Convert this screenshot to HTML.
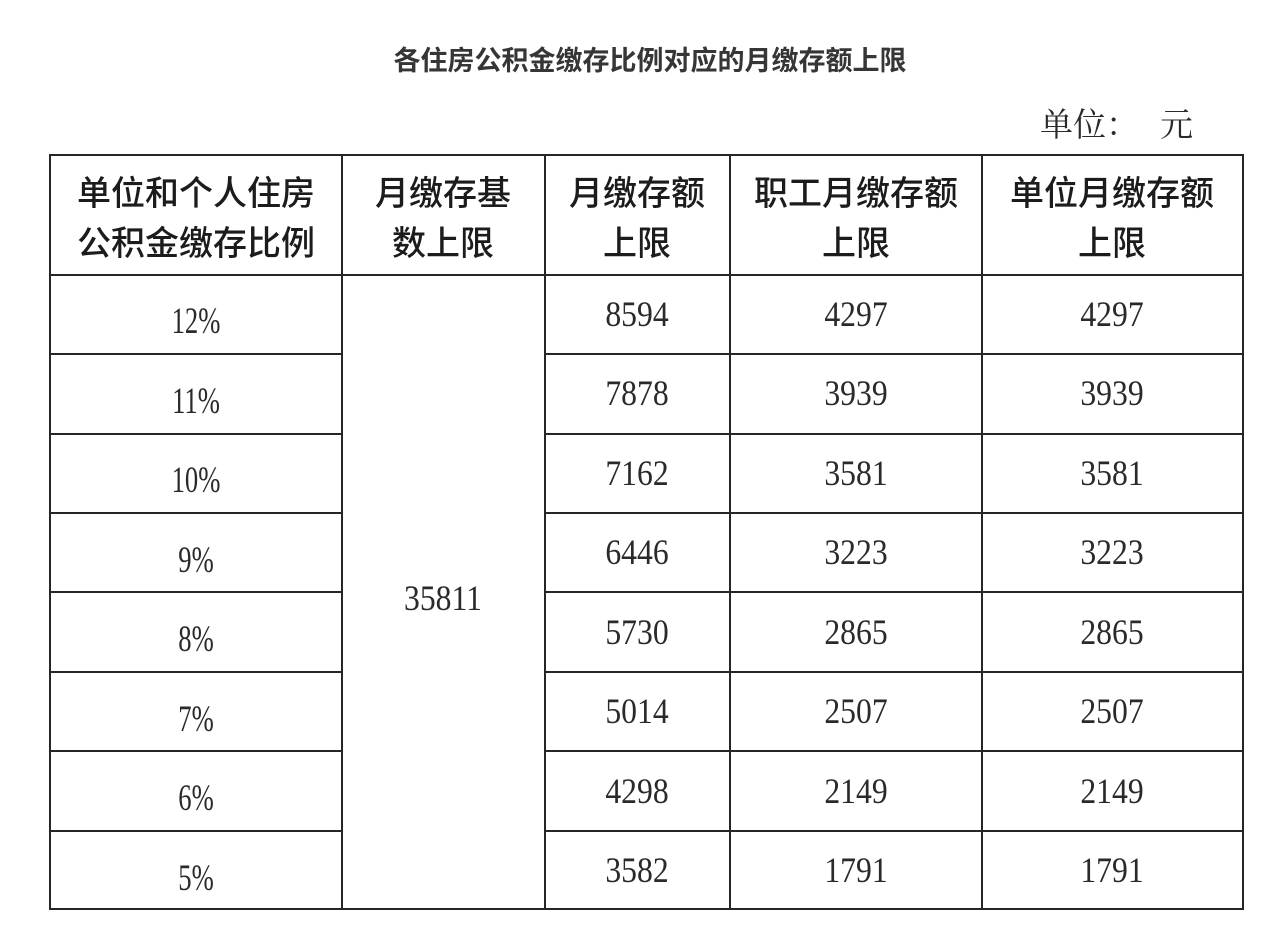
<!DOCTYPE html>
<html>
<head>
<meta charset="utf-8">
<style>
html,body{margin:0;padding:0;background:#fff;}
body{width:1280px;height:939px;overflow:hidden;}
svg{display:block;}
.t{font-family:"Liberation Sans","Noto Sans CJK SC",sans-serif;font-weight:bold;font-size:27px;fill:#363636;}
.h{font-family:"Liberation Sans","Noto Sans CJK SC",sans-serif;font-size:34px;fill:#1c1c1c;font-weight:500;}
.u{font-family:"Noto Serif CJK SC",serif;font-size:33px;fill:#2a2a2a;}
.n{font-family:"Liberation Serif",serif;font-size:36px;fill:#2a2a2a;}
.p{font-family:"Liberation Serif",serif;font-size:37px;fill:#2a2a2a;}
</style>
</head>
<body>
<svg width="1280" height="939" viewBox="0 0 1280 939" xmlns="http://www.w3.org/2000/svg">
<rect width="1280" height="939" fill="#fff"/>
<text class="t" x="650" y="70" text-anchor="middle">各住房公积金缴存比例对应的月缴存额上限</text>
<text class="u" x="1040" y="136">单位：</text>
<text class="u" x="1160" y="136">元</text>

<g stroke="#262626" stroke-width="2" fill="none">
<rect x="50" y="155" width="1193" height="754"/>
<line x1="342" y1="155" x2="342" y2="909"/>
<line x1="545" y1="155" x2="545" y2="909"/>
<line x1="730" y1="155" x2="730" y2="909"/>
<line x1="982" y1="155" x2="982" y2="909"/>
<line x1="50" y1="275" x2="1243" y2="275"/>
<line x1="50" y1="354" x2="342" y2="354"/><line x1="545" y1="354" x2="1243" y2="354"/>
<line x1="50" y1="434" x2="342" y2="434"/><line x1="545" y1="434" x2="1243" y2="434"/>
<line x1="50" y1="513" x2="342" y2="513"/><line x1="545" y1="513" x2="1243" y2="513"/>
<line x1="50" y1="592" x2="342" y2="592"/><line x1="545" y1="592" x2="1243" y2="592"/>
<line x1="50" y1="672" x2="342" y2="672"/><line x1="545" y1="672" x2="1243" y2="672"/>
<line x1="50" y1="751" x2="342" y2="751"/><line x1="545" y1="751" x2="1243" y2="751"/>
<line x1="50" y1="831" x2="342" y2="831"/><line x1="545" y1="831" x2="1243" y2="831"/>
</g>

<g class="h" text-anchor="middle">
<text x="196" y="205">单位和个人住房</text>
<text x="196" y="255">公积金缴存比例</text>
<text x="443" y="205">月缴存基</text>
<text x="443" y="255">数上限</text>
<text x="637" y="205">月缴存额</text>
<text x="637" y="255">上限</text>
<text x="856" y="205">职工月缴存额</text>
<text x="856" y="255">上限</text>
<text x="1112" y="205">单位月缴存额</text>
<text x="1112" y="255">上限</text>
</g>

<g class="p" text-anchor="middle">
<text transform="translate(196,333) scale(0.72,1)">12%</text>
<text transform="translate(196,413) scale(0.72,1)">11%</text>
<text transform="translate(196,492) scale(0.72,1)">10%</text>
<text transform="translate(196,572) scale(0.72,1)">9%</text>
<text transform="translate(196,651) scale(0.72,1)">8%</text>
<text transform="translate(196,731) scale(0.72,1)">7%</text>
<text transform="translate(196,810) scale(0.72,1)">6%</text>
<text transform="translate(196,890) scale(0.72,1)">5%</text>
</g>

<g class="n" text-anchor="middle">
<text transform="translate(443,610) scale(0.88,1)">35811</text>

<text transform="translate(637,326) scale(0.88,1)">8594</text>
<text transform="translate(637,405) scale(0.88,1)">7878</text>
<text transform="translate(637,485) scale(0.88,1)">7162</text>
<text transform="translate(637,564) scale(0.88,1)">6446</text>
<text transform="translate(637,644) scale(0.88,1)">5730</text>
<text transform="translate(637,723) scale(0.88,1)">5014</text>
<text transform="translate(637,803) scale(0.88,1)">4298</text>
<text transform="translate(637,882) scale(0.88,1)">3582</text>

<text transform="translate(856,326) scale(0.88,1)">4297</text>
<text transform="translate(856,405) scale(0.88,1)">3939</text>
<text transform="translate(856,485) scale(0.88,1)">3581</text>
<text transform="translate(856,564) scale(0.88,1)">3223</text>
<text transform="translate(856,644) scale(0.88,1)">2865</text>
<text transform="translate(856,723) scale(0.88,1)">2507</text>
<text transform="translate(856,803) scale(0.88,1)">2149</text>
<text transform="translate(856,882) scale(0.88,1)">1791</text>

<text transform="translate(1112,326) scale(0.88,1)">4297</text>
<text transform="translate(1112,405) scale(0.88,1)">3939</text>
<text transform="translate(1112,485) scale(0.88,1)">3581</text>
<text transform="translate(1112,564) scale(0.88,1)">3223</text>
<text transform="translate(1112,644) scale(0.88,1)">2865</text>
<text transform="translate(1112,723) scale(0.88,1)">2507</text>
<text transform="translate(1112,803) scale(0.88,1)">2149</text>
<text transform="translate(1112,882) scale(0.88,1)">1791</text>
</g>
</svg>
</body>
</html>
